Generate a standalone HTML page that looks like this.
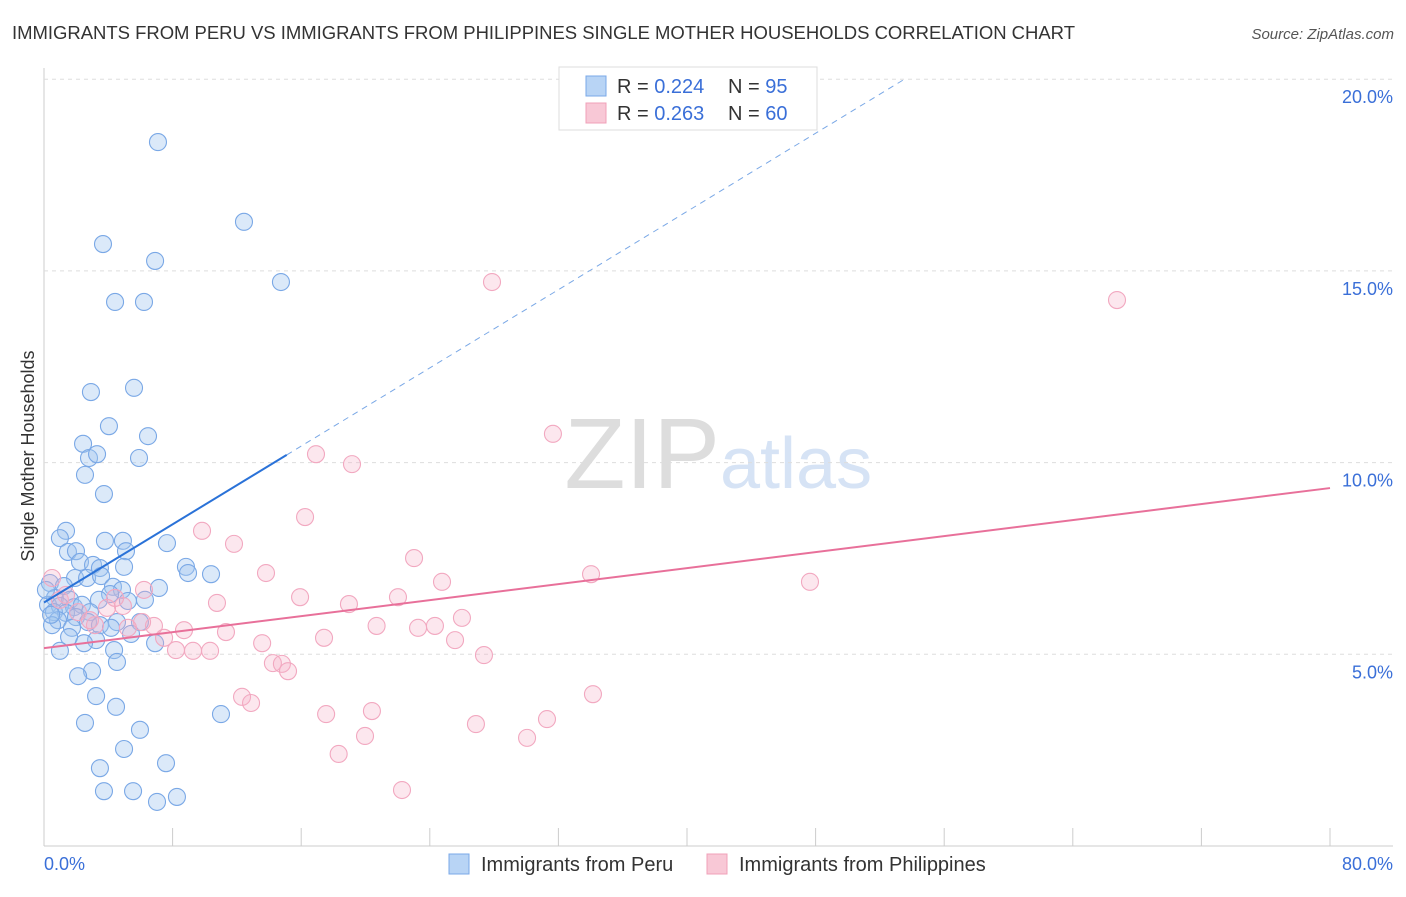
<!DOCTYPE html>
<html><head><meta charset="utf-8"><style>
body{margin:0;background:#fff;font-family:"Liberation Sans",sans-serif;}
svg text{font-family:"Liberation Sans",sans-serif;}
</style></head><body>
<svg id="chart" width="1406" height="892">
<text x="12" y="39" font-size="18.5" fill="#333" textLength="1063">IMMIGRANTS FROM PERU VS IMMIGRANTS FROM PHILIPPINES SINGLE MOTHER HOUSEHOLDS CORRELATION CHART</text>
<text x="1394" y="39" font-size="15" fill="#555" font-style="italic" text-anchor="end">Source: ZipAtlas.com</text>
<text x="720" y="488" font-size="100" fill="#ddd" text-anchor="end" font-family="Liberation Serif">ZIP</text>
<text x="720" y="488" font-size="72" fill="#d6e3f5">atlas</text>
<g id="grid"></g><g id="pts"></g><g id="lines"></g>
<text x="34" y="456" font-size="18" fill="#333" text-anchor="middle" transform="rotate(-90 34 456)">Single Mother Households</text>
<text x="44" y="870" font-size="18" fill="#3a6fd8">0.0%</text>
<text x="1393" y="870" font-size="18" fill="#3a6fd8" text-anchor="end">80.0%</text>
<g>
<rect x="559" y="67" width="258" height="63" fill="#fff" stroke="#ddd"/>
<rect x="586" y="76" width="20" height="20" fill="#b8d4f5" stroke="#7aa8e8"/>
<rect x="586" y="103" width="20" height="20" fill="#f8c8d6" stroke="#f0a0b8"/>
<text x="617" y="93" font-size="20" fill="#333">R = <tspan fill="#3a6fd8">0.224</tspan></text>
<text x="728" y="93" font-size="20" fill="#333">N = <tspan fill="#3a6fd8">95</tspan></text>
<text x="617" y="120" font-size="20" fill="#333">R = <tspan fill="#3a6fd8">0.263</tspan></text>
<text x="728" y="120" font-size="20" fill="#333">N = <tspan fill="#3a6fd8">60</tspan></text>
</g>
<g>
<rect x="449" y="854" width="20" height="20" fill="#b8d4f5" stroke="#7aa8e8"/>
<text x="481" y="871" font-size="20" fill="#333">Immigrants from Peru</text>
<rect x="707" y="854" width="20" height="20" fill="#f8c8d6" stroke="#f0a0b8"/>
<text x="739" y="871" font-size="20" fill="#333">Immigrants from Philippines</text>
</g>
</svg>
<script>
const yTicks=[5,10,15,20];
const yTickLabels=["5.0%","10.0%","15.0%","20.0%"];
const xTicks=[0,8,16,24,32,40,48,56,64,72,80];
const peruX=[7.09,12.44,3.67,6.91,14.74,4.42,6.22,2.92,5.6,4.04,6.47,2.43,2.8,3.3,5.91,2.55,3.73,1.37,0.99,3.79,4.91,7.65,1.49,1.99,5.1,2.24,3.05,3.48,8.83,8.96,4.98,10.39,1.93,2.68,3.55,4.29,7.15,0.37,1.24,4.85,4.11,6.28,5.22,3.42,0.68,1.62,0.25,0.99,1.87,2.36,2.86,0.62,1.37,1.99,0.87,0.5,2.74,4.54,5.97,3.48,1.74,4.17,5.41,1.56,3.24,2.49,6.91,4.36,0.99,4.54,2.99,2.12,3.24,11.01,4.48,2.55,5.97,4.98,7.59,3.48,3.73,5.54,7.03,8.27,0.44,0.12];
const peruY=[18.36,16.28,15.7,15.26,14.71,14.19,14.19,11.84,11.95,10.95,10.69,10.49,10.12,10.22,10.12,9.68,9.18,8.22,8.03,7.96,7.96,7.9,7.67,7.69,7.69,7.41,7.33,7.25,7.28,7.12,7.28,7.09,6.99,6.99,7.04,6.76,6.73,6.86,6.78,6.68,6.57,6.42,6.39,6.42,6.47,6.42,6.29,6.26,6.23,6.29,6.1,6.1,6.08,5.97,5.89,5.76,5.84,5.84,5.84,5.76,5.69,5.69,5.53,5.45,5.37,5.29,5.29,5.11,5.09,4.8,4.56,4.43,3.91,3.44,3.63,3.21,3.03,2.53,2.16,2.03,1.43,1.43,1.15,1.28,6.03,6.68];
const philX=[27.87,66.75,31.66,16.92,19.16,16.24,9.83,11.82,23.02,13.81,34.03,24.76,47.65,15.93,22.02,18.97,10.76,26,20.69,23.27,24.32,17.42,25.57,11.32,13.57,27.37,8.71,7.47,8.21,9.27,10.33,14.24,14.8,15.18,12.32,12.88,34.15,17.55,20.4,26.87,31.29,19.97,30.05,18.33,22.27,6.84,6.22,4.91,3.92,3.17,6.1,5.22,0.5,0.99,2.12,2.86,1.37,4.42];
const philY=[14.71,14.24,10.75,10.22,9.96,8.58,8.22,7.88,7.51,7.12,7.09,6.89,6.89,6.49,6.49,6.31,6.34,5.95,5.74,5.69,5.74,5.43,5.37,5.58,5.29,4.98,5.63,5.43,5.11,5.09,5.09,4.77,4.75,4.56,3.89,3.73,3.96,3.44,3.52,3.18,3.31,2.87,2.82,2.4,1.46,5.74,6.68,6.26,6.21,5.76,5.84,5.69,6.99,6.42,6.1,5.89,6.55,6.47];
const peruFit=[6.35,0.255];
const philFit=[5.16,0.0522];
const X=v=>44+v/80*1286, Y=v=>846-v*38.34;
const NS="http://www.w3.org/2000/svg";
function mk(t,a,p){const e=document.createElementNS(NS,t);for(const k in a)e.setAttribute(k,a[k]);p.appendChild(e);return e;}
const g=document.getElementById('grid');
const ax=mk('line',{x1:44,y1:68,x2:44,y2:846,stroke:'#ccc'},g);


const bx=mk('line',{x1:44,y1:846,x2:1393,y2:846,stroke:'#ccc'},g);


yTicks.forEach((v,i)=>{
 const l=mk('line',{x1:44,y1:Y(v),x2:1393,y2:Y(v),stroke:'#ddd','stroke-dasharray':'4 4'},g);
 
 
 const t=mk('text',{x:1393,y:Y(v)+24,'font-size':18,fill:'#3a6fd8','text-anchor':'end'},g);
 t.textContent=yTickLabels[i];
 
 
});
xTicks.forEach(v=>{
 const l=mk('line',{x1:X(v),y1:828,x2:X(v),y2:846,stroke:'#ccc'},g);
 
 
});
const p=document.getElementById('pts');
peruX.forEach((x,i)=>{
 const c=mk('circle',{cx:X(x),cy:Y(peruY[i]),r:8.5,fill:'rgba(160,198,240,0.38)',stroke:'#7aa8e6','stroke-width':1.1},p);
 
 
});
philX.forEach((x,i)=>{
 const c=mk('circle',{cx:X(x),cy:Y(philY[i]),r:8.5,fill:'rgba(245,175,198,0.3)',stroke:'#f2a8c0','stroke-width':1.1},p);
 
 
});
const L=document.getElementById('lines');
const f=(fit,x)=>fit[0]+fit[1]*x;
const b1=mk('line',{x1:X(0),y1:Y(f(peruFit,0)),x2:X(15.1),y2:Y(f(peruFit,15.1)),stroke:'#2a72d8','stroke-width':2},L);


const xe=(20-peruFit[0])/peruFit[1];
const b2=mk('line',{x1:X(15.1),y1:Y(f(peruFit,15.1)),x2:X(xe),y2:Y(20),stroke:'#7aa8e6','stroke-width':1,'stroke-dasharray':'6 5'},L);


const p1=mk('line',{x1:X(0),y1:Y(f(philFit,0)),x2:X(80),y2:Y(f(philFit,80)),stroke:'#e8709a','stroke-width':2},L);


</script>
</body></html>
